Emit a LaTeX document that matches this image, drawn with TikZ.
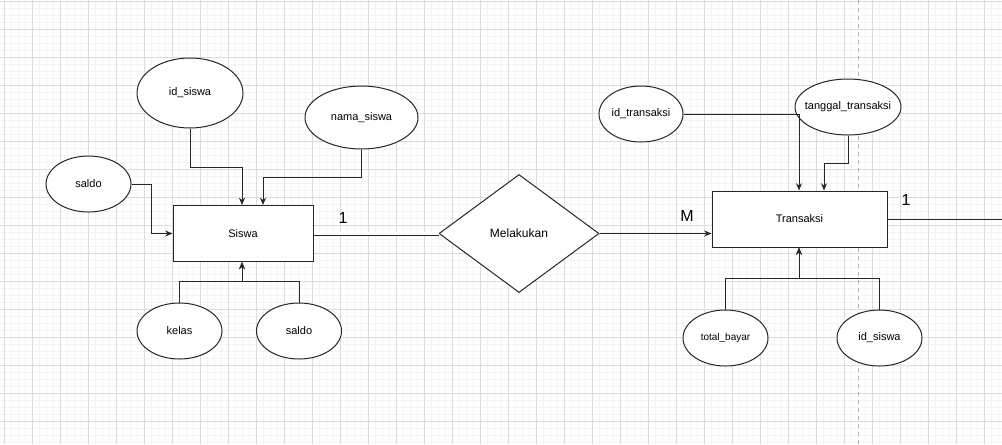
\documentclass[tikz,border=0pt]{standalone}
\usepackage{fontspec}
\setmainfont{Liberation Sans}
\usetikzlibrary{shapes.geometric,arrows.meta,calc}
\definecolor{gmajor}{HTML}{DCDCDC}
\definecolor{gminor}{HTML}{F4F4F4}
\definecolor{pageline}{HTML}{B4B4B4}
\definecolor{ink}{HTML}{262626}
\begin{document}
\begin{tikzpicture}[x=0.75pt,y=-0.75pt,
  attr/.style 2 args={ellipse, draw=ink, line width=0.75pt, fill=white, inner sep=0pt,
    minimum width=#1*0.75pt, minimum height=#2*0.75pt},
  entity/.style 2 args={rectangle, draw=ink, line width=0.75pt, fill=white, inner sep=0pt,
    minimum width=#1*0.75pt, minimum height=#2*0.75pt, font=\fontsize{8.25pt}{10pt}\selectfont},
  rel/.style={diamond, draw=ink, line width=0.75pt, fill=white, inner sep=0pt,
    minimum width=160*0.75pt, minimum height=118*0.75pt, font=\fontsize{9pt}{11pt}\selectfont},
  atxt/.style={font=\fontsize{8.25pt}{10pt}\selectfont, inner sep=0pt},
  stxt/.style={font=\fontsize{7.5pt}{9pt}\selectfont, inner sep=0pt},
  card/.style={font=\fontsize{12pt}{14pt}\selectfont, inner sep=0pt},
  conn/.style={draw=ink, line width=0.75pt},
  arr/.style={conn, -{Stealth[length=5.5pt,width=4.5pt]}}
]
\useasboundingbox (0,0) rectangle (1002,444);
\fill[white] (0,0) rectangle (1002,444);
% grid
\foreach \k in {0,...,142} { \draw[gminor, line width=0.75pt] ({4+7*\k},0) -- ({4+7*\k},444); }
\foreach \k in {0,...,63} { \draw[gminor, line width=0.75pt] (0,{1+7*\k}) -- (1002,{1+7*\k}); }
\foreach \k in {0,...,35} { \draw[gmajor, line width=0.75pt] ({4+28*\k},0) -- ({4+28*\k},444); }
\foreach \k in {0,...,15} { \draw[gmajor, line width=0.75pt] (0,{1+28*\k}) -- (1002,{1+28*\k}); }
\draw[pageline, line width=0.75pt, dash pattern=on 3pt off 3pt] (858,0) -- (858,444);

% Siswa side
\node[entity={140}{56}] (S) at (243,233.5) {Siswa};
\node[attr={106}{70}, label={[atxt]center:id\_siswa}] (ids) at (190,93) {};
\node[attr={113}{63}, label={[atxt]center:nama\_siswa}] (nama) at (361.5,117.5) {};
\node[attr={85}{56}, label={[atxt]center:saldo}] (sl) at (88.5,184) {};
\node[attr={85}{56}, label={[atxt]center:kelas}] (kl) at (179.5,331) {};
\node[attr={85}{56}, label={[atxt]center:saldo}] (sb) at (299,331) {};

\draw[arr] (ids.south) -- ++(0,39) -| ($(S.north)+(-1,0)$);
\draw[arr] (nama.south) -- ++(0,28) -| ($(S.north)+(20,0)$);
\draw[arr] (sl.east) -- ++(20,0) |- (S.west);
\draw[arr] (kl.north) -- ++(0,-21) -| ($(S.south)+(-1,0)$);
\draw[arr] (sb.north) -- ++(0,-21) -| ($(S.south)+(-1,0)$);

% relationship
\node[rel] (D) at (519,233.5) {Melakukan};
\draw[ink, line width=0.7pt, double=white, double distance=1.6pt] (S.east) -- (D.west);
\node[card] (c1) at (343,218) {1};

% Transaksi side
\node[entity={175}{56}] (T) at (799.5,219) {Transaksi};
\draw[arr] (D.east) -- (D.east -| T.west);
\node[card] (cM) at (687,216) {M};
\node[card] (c2) at (906,200) {1};
\coordinate (edge) at (1002,219);
\draw[conn] (T.east) -- (edge);

\node[attr={84}{56}, label={[atxt]center:id\_transaksi}] (idt) at (641,114) {};
\node[attr={106}{56}, label={[atxt]center:tanggal\_transaksi}] (tg) at (848,107) {};
\node[attr={85}{56}, label={[stxt]center:total\_bayar}] (tb) at (725.5,338) {};
\node[attr={85}{56}, label={[atxt]center:id\_siswa}] (ids2) at (879.5,338) {};

\draw[arr] (idt.east) -| ($(T.north)+(-0.5,0)$);
\draw[arr] (tg.south) -- ++(0,28) -| ($(T.north)+(24.5,0)$);
\draw[arr] (tb.north) -- ++(0,-31) -| ($(T.south)+(-0.5,0)$);
\draw[arr] (ids2.north) -- ++(0,-31) -| ($(T.south)+(-0.5,0)$);
\end{tikzpicture}
\end{document}
